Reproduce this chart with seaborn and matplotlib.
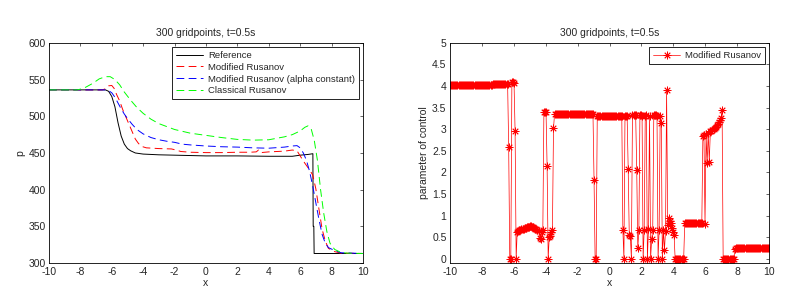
import numpy as np
import matplotlib
matplotlib.use("Agg")
import matplotlib.pyplot as plt
import seaborn as sns

# ---- left panel: p(x) at t=0.5s ----
ref_x = [-10, -6.4, -6.2, -6.0, -5.8, -5.6, -5.4, -5.2, -5.0, -4.8, -4.5, -4.0, -3.0, -2.0,
         0, 2, 4, 5.5, 6.0, 6.5, 6.81, 6.83, 6.87, 6.89, 10]
ref_p = [536, 536, 534, 527, 513, 491, 473, 462, 456, 453, 450, 448.5, 447.5, 447,
         446, 446, 445.5, 445.5, 447, 448, 449, 350, 350, 313, 313]

mod_x = [-10, -6.6, -6.4, -6.2, -6.0, -5.85, -5.7, -5.5, -5.3, -5.1, -4.9, -4.7, -4.5, -4.3,
         -4.1, -3.8, -3.0, -2.2, -1.9, -1.6, -1.0, 0, 1, 2, 2.8, 3.2, 3.35, 3.5, 4, 5, 5.5,
         5.8, 6.0, 6.3, 6.6, 6.8, 7.0, 7.2, 7.4, 7.6, 7.8, 8.2, 8.6, 10]
mod_p = [536, 536, 537.5, 541.5, 542, 538, 530, 521, 509, 499, 489, 479, 469, 463,
         459, 457, 456, 455.5, 454, 452, 451, 450.5, 450.5, 451, 451, 451.5, 454, 450.5, 451.5, 452.5, 454,
         453, 446, 436, 427, 420, 401, 373, 346, 330, 320, 315.5, 313.5, 313]

alpha_x = [-10, -6.4, -6.2, -6.0, -5.8, -5.6, -5.4, -5.2, -5.0, -4.7, -4.4, -4.0, -3.5, -3.0,
           -2.5, -2.0, -1.5, -1.0, 0, 1, 2, 3, 4, 5, 5.5, 5.8, 6.0, 6.2, 6.4, 6.6, 6.8, 7.0,
           7.2, 7.4, 7.6, 7.8, 8.2, 8.6, 10]
alpha_p = [536, 536, 535, 532, 526, 518, 510, 503, 497, 489, 482, 476, 471, 468,
           466, 464.5, 462, 461, 459.5, 458.5, 458, 457, 456.5, 458, 459.5, 460, 457, 450, 440, 425, 405, 382,
           359, 339, 327, 321, 317, 314, 313]

cls_x = [-10, -8.2, -7.8, -7.2, -6.8, -6.4, -6.1, -5.8, -5.5, -5.2, -4.8, -4.4, -4.0, -3.5,
         -3.0, -2.5, -2.0, -1.0, 0, 1, 2, 3, 4, 4.5, 5, 5.5, 6.0, 6.3, 6.5, 6.7, 6.9, 7.1,
         7.3, 7.5, 7.7, 7.9, 8.2, 8.6, 9, 10]
cls_p = [536, 536, 538, 545, 551, 554, 554, 550, 543, 533, 522, 512, 504, 496,
         490, 486, 482, 477, 474, 471, 468.5, 467.5, 468, 470, 472, 475, 480, 485, 487, 483, 467, 440,
         400, 368, 343, 327, 318.5, 314.5, 313.5, 313]

# ---- right panel: control parameter on the 300 point grid (runs of equal values) ----
ctrl_levels = [4.03, 4.05, 2.58, 0.0, 4.10, 4.08, 2.96, 0.0,
               0.63, 0.65, 0.66, 0.67, 0.68, 0.69, 0.70, 0.71, 0.72, 0.73, 0.74, 0.74, 0.75, 0.75,
               0.74, 0.73, 0.72, 0.70, 0.68, 0.66, 0.64,
               0.48, 0.45, 0.62, 0.67, 3.40, 3.41, 3.40, 2.15, 0.0, 0.50, 0.52, 0.62, 0.66, 3.02,
               3.36, 3.35, 1.82, 0.0, 3.31,
               0.67, 0.0, 3.30, 3.31, 3.30, 2.08, 0.55, 0.53, 0.0, 3.33, 3.33, 3.32, 3.33, 2.06,
               0.24, 0.67, 3.32, 3.32, 3.31, 0.0, 0.67, 3.31, 3.32, 0.0, 0.68, 3.31, 0.0, 0.45,
               0.67, 3.33, 3.33, 3.32, 3.30, 0.0, 0.67, 3.30, 3.14, 0.0, 0.67, 0.20, 0.65, 3.90,
               0.78, 0.95, 0.88, 0.82, 0.72, 0.62, 0.55,
               0.0, 0.83,
               2.85, 2.86, 0.81, 2.88, 2.22, 2.92, 2.25, 2.95, 2.97, 2.99, 3.01, 3.04, 3.06, 3.09,
               3.12, 3.16, 3.21, 3.27, 3.45,
               0.0, 0.22, 0.24]
ctrl_counts = [40, 15, 1, 2, 2, 1, 1, 1] + [1] * 21 + [1] * 14 + [18, 19, 1, 2, 24] + [1] * 49 \
    + [9, 17] + [1] * 19 + [11, 1, 32]

x_ticks = [-10, -8, -6, -4, -2, 0, 2, 4, 6, 8, 10]
p_ticks = [300, 350, 400, 450, 500, 550, 600]
ctrl_ticks = [0, 0.5, 1, 1.5, 2, 2.5, 3, 3.5, 4, 4.5, 5]
ctrl_tick_labels = ['0', '0.5', '1', '1.5', '2', '2.5', '3', '3.5', '4', '4.5', '5']

grid_x = np.linspace(-10, 10, 300)
ctrl = np.repeat(ctrl_levels, ctrl_counts)

sns.set_style("white")
plt.rcParams.update({
    'xtick.direction': 'in', 'ytick.direction': 'in',
    'xtick.top': True, 'ytick.right': True,
    'xtick.major.size': 2.5, 'ytick.major.size': 2.5,
    'xtick.major.width': 0.5, 'ytick.major.width': 0.5,
    'axes.linewidth': 0.6, 'axes.edgecolor': 'black',
    'axes.unicode_minus': False,
    'font.size': 7.5,
})
plt.rcParams['font.family'] = ['Liberation Sans', 'DejaVu Sans']

fs = 7.5
fig = plt.figure(figsize=(8.03, 2.9), dpi=100)
ax1 = fig.add_axes([0.061, 0.093, 0.391, 0.759])
ax2 = fig.add_axes([0.5604, 0.093, 0.3973, 0.759])

dash = (0, (8, 4.5))
sns.lineplot(x=ref_x, y=ref_p, ax=ax1, color='black', lw=0.7, sort=False, estimator=None,
             label='Reference')
sns.lineplot(x=mod_x, y=mod_p, ax=ax1, color='red', lw=0.7, linestyle=dash, sort=False,
             estimator=None, label='Modified Rusanov')
sns.lineplot(x=alpha_x, y=alpha_p, ax=ax1, color='blue', lw=0.7, linestyle=dash, sort=False,
             estimator=None, label='Modified Rusanov (alpha constant)')
sns.lineplot(x=cls_x, y=cls_p, ax=ax1, color='#00ff00', lw=0.7, linestyle=dash, sort=False,
             estimator=None, label='Classical Rusanov')

ax1.set_xlim(-10, 10)
ax1.set_ylim(300, 600)
ax1.set_xticks(x_ticks)
ax1.set_yticks(p_ticks)
ax1.set_xlabel('x', fontsize=fs, labelpad=1)
ax1.set_ylabel('p', fontsize=fs, labelpad=2)
ax1.set_title('300 gridpoints, t=0.5s', fontsize=fs, pad=5)

sns.lineplot(x=grid_x, y=ctrl, ax=ax2, color='red', lw=0.5, marker=(8, 2, 0), markersize=5.5,
             markeredgewidth=0.6, markeredgecolor='red', sort=False, estimator=None,
             label='Modified Rusanov')
ax2.set_xlim(-10, 10)
ax2.set_ylim(-0.1, 5)
ax2.set_xticks(x_ticks)
ax2.set_yticks(ctrl_ticks)
ax2.set_yticklabels(ctrl_tick_labels)
ax2.set_xlabel('x', fontsize=fs, labelpad=1)
ax2.set_ylabel('parameter of control', fontsize=fs, labelpad=2)
ax2.set_title('300 gridpoints, t=0.5s', fontsize=fs, pad=5)

for ax in (ax1, ax2):
    ax.tick_params(labelsize=fs, pad=2.5)
    for s in ax.spines.values():
        s.set_visible(True)
        s.set_color('black')
    leg = ax.legend(loc='upper right', fontsize=6.8, fancybox=False, edgecolor='black',
                    framealpha=1, handlelength=2.9, borderaxespad=0.45, labelspacing=0.3,
                    borderpad=0.4, handletextpad=0.5)
    leg.get_frame().set_linewidth(0.6)

fig.savefig('out.png', dpi=100)
